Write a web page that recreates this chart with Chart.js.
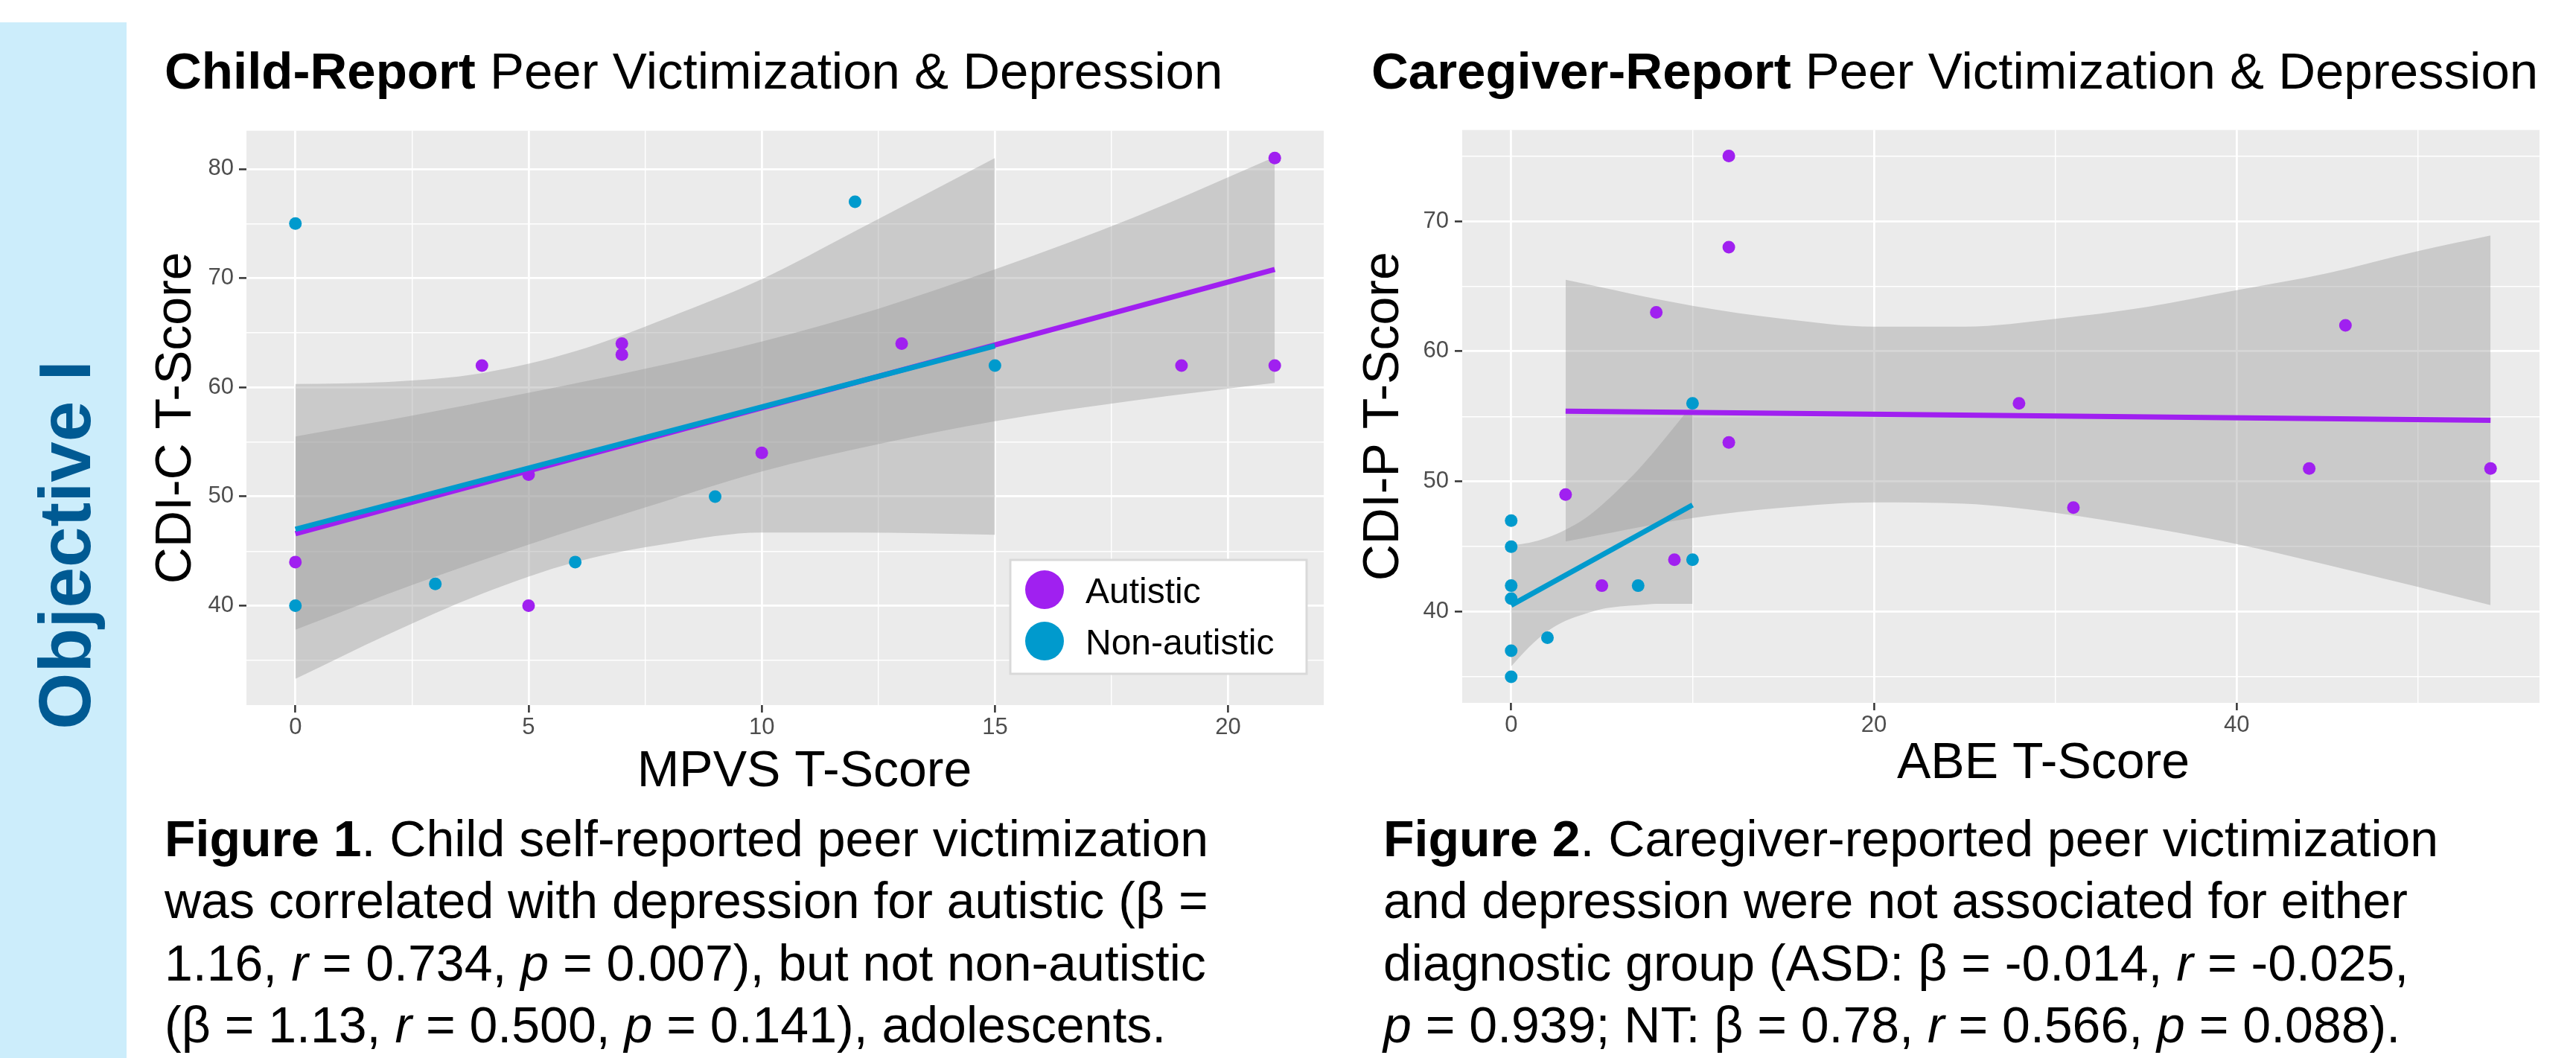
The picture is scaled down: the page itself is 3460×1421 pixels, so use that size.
<!DOCTYPE html>
<html>
<head>
<meta charset="utf-8">
<script src="https://cdn.jsdelivr.net/npm/chart.js"></script>
<style>
  body { margin:0; width:3460px; height:1421px; background:#fff; position:relative; overflow:hidden;
         font-family:"Liberation Sans", Arial, sans-serif; color:#000; }
  .side { position:absolute; left:0; top:30px; width:170px; height:1391px; background:#CCEDFB; }
  .objective { position:absolute; left:-213px; top:683px; width:600px; height:98px; line-height:98px;
               text-align:center; transform:rotate(-90deg); font-weight:bold; font-size:98px; color:#005A93; }
  .title { position:absolute; top:61px; font-size:69px; line-height:69px; white-space:nowrap; }
  .cap { position:absolute; top:1085px; font-size:68px; line-height:83.3px; white-space:nowrap; }
  canvas { position:absolute; }
</style>
</head>
<body>
<div class="side"></div>
<div class="objective">Objective I</div>

<div class="title" style="left:221px"><b>Child-Report</b> Peer Victimization &amp; Depression</div>
<div class="title" style="left:1842px"><b>Caregiver-Report</b> Peer Victimization &amp; Depression</div>

<canvas id="child" width="1620" height="930" style="left:180px;top:150px;width:1620px;height:930px"></canvas>
<canvas id="care" width="1650" height="932" style="left:1800px;top:148px;width:1650px;height:932px"></canvas>

<div class="cap" style="left:221px"><b>Figure 1</b>. Child self-reported peer victimization<br>was correlated with depression for autistic (β =<br>1.16, <i>r</i> = 0.734, <i>p</i> = 0.007), but not non-autistic<br>(β = 1.13, <i>r</i> = 0.500, <i>p</i> = 0.141), adolescents.</div>
<div class="cap" style="left:1858px"><b>Figure 2</b>. Caregiver-reported peer victimization<br>and depression were not associated for either<br>diagnostic group (ASD: β = -0.014, <i>r</i> = -0.025,<br><i>p</i> = 0.939; NT: β = 0.78, <i>r</i> = 0.566, <i>p</i> = 0.088).</div>

<script>
// groups
const groups = ['Autistic', 'Non-autistic'];
const groupColors = ['#A020F0', '#009ACD'];

// Figure 1: child report (MPVS vs CDI-C)
const childX_aut = [0, 4, 5, 5, 7, 7, 10, 13, 19, 21, 21];
const childY_aut = [44, 62, 52, 40, 64, 63, 54, 64, 62, 81, 62];
const childX_non = [0, 0, 3, 6, 9, 12, 15];
const childY_non = [75, 40, 42, 44, 50, 77, 62];

const childFitX_aut = [0, 21];
const childFitY_aut = [46.6, 70.8];
const childFitX_non = [0, 15];
const childFitY_non = [47.0, 63.8];

const childBandX_aut = [0, 2.5, 5, 7.5, 10, 12.5, 15, 18, 21];
const childBandHi_aut = [55.5, 57.4, 59.5, 61.7, 64.2, 67.2, 70.8, 75.6, 81.1];
const childBandLo_aut = [37.8, 41.9, 45.6, 49.0, 52.3, 54.8, 56.9, 58.8, 60.4];
const childBandX_non = [0, 2, 4, 6, 8, 10, 12, 15];
const childBandHi_non = [60.3, 60.5, 61.3, 63.3, 66.4, 69.9, 74.3, 81.0];
const childBandLo_non = [33.3, 37.4, 41.1, 44.0, 45.7, 46.7, 46.7, 46.5];

const childXTicks = [0, 5, 10, 15, 20];
const childYTicks = [40, 50, 60, 70, 80];

// Figure 2: caregiver report (ABE vs CDI-P)
const careX_aut = [3, 5, 8, 9, 12, 12, 12, 28, 31, 44, 46, 54];
const careY_aut = [49, 42, 63, 44, 75, 68, 53, 56, 48, 51, 62, 51];
const careX_non = [0, 0, 0, 0, 0, 0, 2, 7, 10, 10];
const careY_non = [47, 45, 42, 41, 37, 35, 38, 42, 44, 56];

const careFitX_aut = [3, 54];
const careFitY_aut = [55.4, 54.7];
const careFitX_non = [0, 10];
const careFitY_non = [40.5, 48.2];

const careBandX_aut = [3, 10, 15, 20, 25, 30, 35, 40, 45, 50, 54];
const careBandHi_aut = [65.5, 63.5, 62.5, 61.9, 61.9, 62.5, 63.4, 64.7, 66.0, 67.7, 68.9];
const careBandLo_aut = [45.4, 47.2, 48.0, 48.4, 48.3, 47.6, 46.5, 45.2, 43.6, 41.9, 40.5];
const careBandX_non = [0, 1, 2, 3, 4, 5, 6, 7, 8, 9, 10];
const careBandHi_non = [45.1, 45.3, 45.7, 46.3, 47.1, 48.2, 49.5, 50.9, 52.5, 54.2, 55.9];
const careBandLo_non = [35.8, 37.3, 38.5, 39.3, 39.8, 40.2, 40.4, 40.5, 40.6, 40.6, 40.6];

const careXTicks = [0, 20, 40];
const careYTicks = [40, 50, 60, 70];

Chart.defaults.font.family = '"Liberation Sans", Arial, sans-serif';

const zip = (xs, ys) => xs.map((x, i) => ({x: x, y: ys[i]}));
const ribbonFill = 'rgba(153,153,153,0.4)';

const panelBg = {
  id: 'panelBg',
  beforeDraw(chart) {
    const {ctx, chartArea: a} = chart;
    ctx.save();
    ctx.fillStyle = '#EBEBEB';
    ctx.fillRect(a.left, a.top, a.right - a.left, a.bottom - a.top);
    ctx.restore();
  }
};

// x axis title, nudged off the panel centre like the original
const xTitle = {
  id: 'xTitle',
  afterDraw(chart, args, o) {
    const {ctx, chartArea: a} = chart;
    ctx.save();
    ctx.font = '68px "Liberation Sans", Arial, sans-serif';
    ctx.fillStyle = '#000';
    ctx.textAlign = 'center';
    ctx.textBaseline = 'alphabetic';
    ctx.fillText(o.text, (a.left + a.right) / 2 + o.dx, a.bottom + o.dy);
    ctx.restore();
  }
};

const insideLegend = {
  id: 'insideLegend',
  afterDraw(chart, args, opts) {
    if (!opts.show) return;
    const {ctx, chartArea} = chart;
    const w = 398, h = 153;
    const x0 = chartArea.right - 23 - w, y0 = chartArea.bottom - 42 - h;
    ctx.save();
    ctx.fillStyle = '#fff';
    ctx.fillRect(x0, y0, w, h);
    ctx.strokeStyle = '#D9D9D9';
    ctx.lineWidth = 3;
    ctx.strokeRect(x0, y0, w, h);
    ctx.font = '48px "Liberation Sans", Arial, sans-serif';
    ctx.textBaseline = 'middle';
    groups.forEach((g, i) => {
      const cy = y0 + 40 + i * 69;
      ctx.fillStyle = groupColors[i];
      ctx.beginPath();
      ctx.arc(x0 + 46, cy, 26, 0, Math.PI * 2);
      ctx.fill();
      ctx.fillStyle = '#000';
      ctx.fillText(g, x0 + 101, cy + 5);
    });
    ctx.restore();
  }
};

function axis(min, max, step, majors, cfg) {
  const major = v => majors.includes(v);
  return {
    type: 'linear', min: min, max: max,
    afterFit: s => { if (cfg.w) s.width = cfg.w; if (cfg.h) s.height = cfg.h; },
    ticks: {
      stepSize: step, autoSkip: false, includeBounds: false, maxRotation: 0,
      padding: cfg.tickPad, color: '#4D4D4D', font: {size: 31},
      callback: v => major(v) ? String(v) : ''
    },
    grid: {
      color: '#FFFFFF',
      lineWidth: c => (c.tick && major(c.tick.value)) ? 2.8 : 1.4,
      tickColor: c => (c.tick && major(c.tick.value)) ? '#333333' : 'rgba(0,0,0,0)',
      tickWidth: 2.5, tickLength: 10, drawTicks: true
    },
    border: {display: false},
    title: {display: !!cfg.title, text: cfg.title || '', color: '#000', font: {size: 68},
            padding: cfg.titlePad || 0}
  };
}

function buildChart(id, d) {
  const datasets = [];
  // confidence ribbons (drawn first)
  d.bands.forEach(b => {
    datasets.push({type: 'line', data: zip(b.x, b.hi), borderWidth: 0, pointRadius: 0,
      cubicInterpolationMode: 'monotone', fill: '+1', backgroundColor: ribbonFill, order: 3});
    datasets.push({type: 'line', data: zip(b.x, b.lo), borderWidth: 0, pointRadius: 0,
      cubicInterpolationMode: 'monotone', fill: false, order: 3});
  });
  // points
  d.points.forEach((p, i) => {
    datasets.push({type: 'scatter', label: groups[i], data: zip(p.x, p.y), showLine: false,
      pointRadius: 8.5, pointBorderWidth: 0, pointBackgroundColor: groupColors[i],
      pointBorderColor: groupColors[i], order: 2});
  });
  // fitted lines (non-autistic on top)
  d.fits.forEach((f, i) => {
    datasets.push({type: 'line', data: zip(f.x, f.y), borderColor: groupColors[i], borderWidth: 7,
      pointRadius: 0, fill: false, order: i === 1 ? 0 : 1});
  });

  return new Chart(document.getElementById(id), {
    type: 'scatter',
    data: {datasets: datasets},
    options: {
      responsive: false, animation: false, devicePixelRatio: 1, events: [],
      layout: {padding: d.padding},
      scales: {x: d.x, y: d.y},
      plugins: {legend: {display: false}, tooltip: {enabled: false},
                insideLegend: {show: d.legend}, xTitle: d.xTitle}
    },
    plugins: [panelBg, xTitle, insideLegend]
  });
}

buildChart('child', {
  bands: [
    {x: childBandX_aut, hi: childBandHi_aut, lo: childBandLo_aut},
    {x: childBandX_non, hi: childBandHi_non, lo: childBandLo_non}
  ],
  points: [{x: childX_aut, y: childY_aut}, {x: childX_non, y: childY_non}],
  fits: [{x: childFitX_aut, y: childFitY_aut}, {x: childFitX_non, y: childFitY_non}],
  padding: {left: 0, top: 10, right: 22, bottom: 0},
  x: axis(-1.05, 22.05, 2.5, childXTicks, {h: 133, tickPad: 2}),
  y: axis(30.9, 83.5, 5, childYTicks, {w: 151, tickPad: 7, title: 'CDI-C T-Score', titlePad: {top: 16, bottom: 0}}),
  xTitle: {text: 'MPVS T-Score', dx: 26, dy: 109},
  legend: true
});

buildChart('care', {
  bands: [
    {x: careBandX_aut, hi: careBandHi_aut, lo: careBandLo_aut},
    {x: careBandX_non, hi: careBandHi_non, lo: careBandLo_non}
  ],
  points: [{x: careX_aut, y: careY_aut}, {x: careX_non, y: careY_non}],
  fits: [{x: careFitX_aut, y: careFitY_aut}, {x: careFitX_non, y: careFitY_non}],
  padding: {left: 0, top: 10, right: 39, bottom: 0},
  x: axis(-2.7, 56.7, 10, careXTicks, {h: 136, tickPad: 2}),
  y: axis(33, 77, 5, careYTicks, {w: 164, tickPad: 8, title: 'CDI-P T-Score', titlePad: {top: 18, bottom: 0}}),
  xTitle: {text: 'ABE T-Score', dx: 57, dy: 101},
  legend: false
});
</script>
</body>
</html>
